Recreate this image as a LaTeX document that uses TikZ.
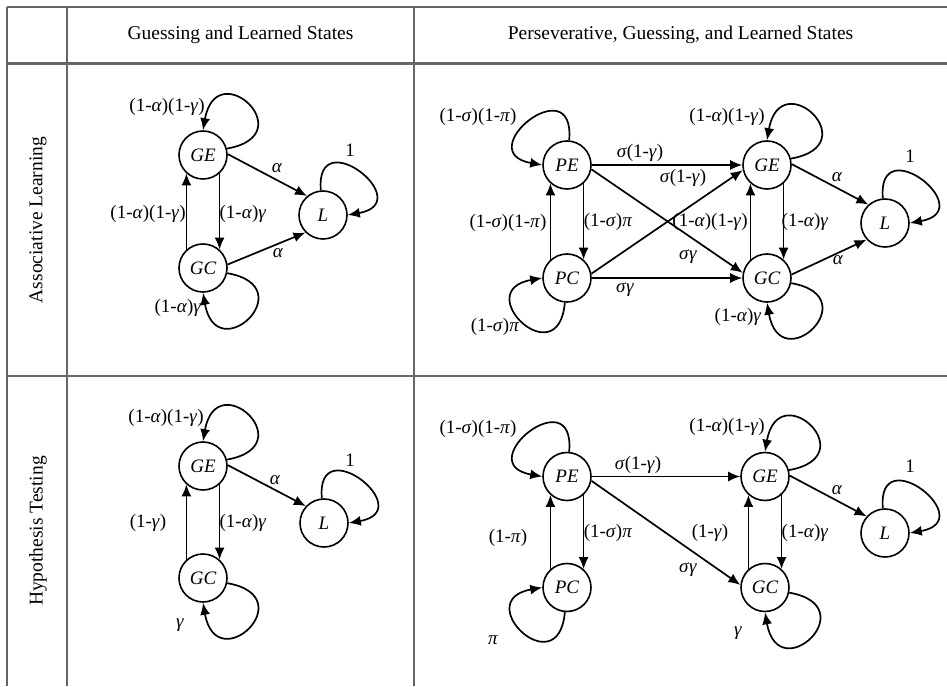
\documentclass[tikz,border=0pt]{standalone}
\usepackage{fontspec}
\setmainfont{Liberation Serif}
\usetikzlibrary{arrows.meta}
% italic Greek symbols used in the transition labels
\newcommand\xa{\textit{α}}
\newcommand\xg{\textit{γ}}
\newcommand\xs{\textit{σ}}
\newcommand\xp{\textit{π}}
\newcommand\txtsize{\fontsize{19}{21}\selectfont}
\newcommand\hdrsize{\fontsize{19.5}{21}\selectfont}
\begin{document}
\begin{tikzpicture}[x=1pt,y=1pt,
  gridline/.style={line width=2.8pt,draw=black!60},
  hdr/.style={font=\hdrsize,inner sep=0pt},
  st/.style={circle,draw,line width=1.6pt,minimum size=48pt,inner sep=0pt,font=\txtsize\itshape},
  arr/.style={line width=1.7pt,-{Latex[length=12pt,width=10pt]}},
  lbl/.style={font=\txtsize,inner sep=0pt}]
\useasboundingbox (0,0) rectangle (947,686);
\fill[white] (0,0) rectangle (947,686);

% table rules
\draw[gridline] (7,679) -- (947,679);
\draw[gridline] (7,622.5) -- (947,622.5);
\draw[gridline] (7,310) -- (947,310);
\draw[gridline] (7,679) -- (7,0);
\draw[gridline] (67,679) -- (67,0);
\draw[gridline] (414,679) -- (414,0);

% headings
\node[hdr] (h1) at (240.5,651) {Guessing and Learned States};
\node[hdr] (h2) at (680.5,651) {Perseverative, Guessing, and Learned States};
\node[hdr,rotate=90] (r1) at (38,466) {Associative Learning};
\node[hdr,rotate=90] (r2) at (38,155) {Hypothesis Testing};

% ---- associative learning, guessing and learned states
\node[st] (aGE) at (203,531) {GE};
\node[st] (aGC) at (203,418) {GC};
\node[st] (aL) at (323,471) {L};
\draw[arr] (aGE.15) .. controls +(10:78) and +(80:78) .. (aGE.90);
\draw[arr] (aGC.-12) .. controls +(-10:78) and +(-80:78) .. (aGC.270);
\draw[arr] (aL.95) .. controls +(95:70) and +(10:72) .. (aL.0);
\draw[arr] (aGE.2) -- (aL.130);
\draw[arr] (aGC.8) -- (aL.225);
\draw[arr] (aGC.132) -- (aGE.228);
\draw[arr] (aGE.312) -- (aGC.48);
\node[lbl] (a1) at (167,579) {(1-\xa)(1-\xg)};
\node[lbl] (a2) at (277,518) {\xa};
\node[lbl] (a3) at (278,433) {\xa};
\node[lbl] (a4) at (148,472) {(1-\xa)(1-\xg)};
\node[lbl] (a5) at (243,472) {(1-\xa)\xg};
\node[lbl] (a6) at (178,378) {(1-\xa)\xg};
\node[lbl] (a7) at (350,536) {1};

% ---- associative learning, perseverative, guessing and learned states
\node[st] (bPE) at (567,521) {PE};
\node[st] (bPC) at (567,408) {PC};
\node[st] (bGE) at (767,521) {GE};
\node[st] (bGC) at (767,408) {GC};
\node[st] (bL) at (885,463) {L};
\draw[arr] (bPE.85) .. controls +(85:74) and +(170:74) .. (bPE.180);
\draw[arr] (bPC.265) .. controls +(265:74) and +(190:74) .. (bPC.180);
\draw[arr] (bGE.15) .. controls +(10:78) and +(80:78) .. (bGE.90);
\draw[arr] (bGC.-12) .. controls +(-10:78) and +(-80:78) .. (bGC.270);
\draw[arr] (bL.95) .. controls +(95:70) and +(10:72) .. (bL.0);
\draw[arr] (bPE) -- (bGE);
\draw[arr] (bPC) -- (bGC);
\draw[arr] (bPE.-10) -- (bGC.168);
\draw[arr] (bPC.10) -- (bGE.192);
\draw[arr] (bPC.132) -- (bPE.228);
\draw[arr] (bPE.312) -- (bPC.48);
\draw[arr] (bGC.132) -- (bGE.228);
\draw[arr] (bGE.312) -- (bGC.48);
\draw[arr] (bGE.2) -- (bL.132);
\draw[arr] (bGC.8) -- (bL.222);
\node[lbl] (b1) at (478,569) {(1-\xs)(1-\xp)};
\node[lbl] (b2) at (508,463) {(1-\xs)(1-\xp)};
\node[lbl] (b3) at (608,464) {(1-\xs)\xp};
\node[lbl] (b4) at (495,359) {(1-\xs)\xp};
\node[lbl] (b5) at (640,533) {\xs(1-\xg)};
\node[lbl] (b6) at (625,396) {\xs\xg};
\node[lbl] (b7) at (683,508) {\xs(1-\xg)};
\node[lbl] (b8) at (688,429) {\xs\xg};
\node[lbl] (b9) at (710,464) {(1-\xa)(1-\xg)};
\node[lbl] (b10) at (805,464) {(1-\xa)\xg};
\node[lbl] (b11) at (727,569) {(1-\xa)(1-\xg)};
\node[lbl] (b12) at (837,509) {\xa};
\node[lbl] (b13) at (838,426) {\xa};
\node[lbl] (b14) at (738,369) {(1-\xa)\xg};
\node[lbl] (b15) at (910,530) {1};

% ---- hypothesis testing, guessing and learned states
\node[st] (dGE) at (203,220) {GE};
\node[st] (dGC) at (203,108) {GC};
\node[st] (dL) at (324,163) {L};
\draw[arr] (dGE.15) .. controls +(10:78) and +(80:78) .. (dGE.90);
\draw[arr] (dGC.-12) .. controls +(-10:78) and +(-80:78) .. (dGC.270);
\draw[arr] (dL.95) .. controls +(95:70) and +(10:72) .. (dL.0);
\draw[arr] (dGE.2) -- (dL.137);
\draw[arr] (dGC.132) -- (dGE.228);
\draw[arr] (dGE.312) -- (dGC.48);
\node[lbl] (d1) at (166,268) {(1-\xa)(1-\xg)};
\node[lbl] (d2) at (275,206) {\xa};
\node[lbl] (d3) at (148,163) {(1-\xg)};
\node[lbl] (d4) at (243,163) {(1-\xa)\xg};
\node[lbl] (d5) at (180,61) {\xg};
\node[lbl] (d6) at (350,226) {1};

% ---- hypothesis testing, perseverative, guessing and learned states
\node[st] (cPE) at (567,209.5) {PE};
\node[st] (cPC) at (567,98.5) {PC};
\node[st] (cGE) at (765,209.5) {GE};
\node[st] (cGC) at (765,98.5) {GC};
\node[st] (cL) at (885,153) {L};
\draw[arr] (cPE.85) .. controls +(85:74) and +(170:74) .. (cPE.180);
\draw[arr] (cPC.265) .. controls +(265:74) and +(190:74) .. (cPC.180);
\draw[arr] (cGE.15) .. controls +(10:78) and +(80:78) .. (cGE.90);
\draw[arr] (cGC.-12) .. controls +(-10:78) and +(-80:78) .. (cGC.270);
\draw[arr] (cL.95) .. controls +(95:70) and +(10:72) .. (cL.0);
\draw[arr] (cPE) -- (cGE);
\draw[arr] (cPE.-10) -- (cGC.174);
\draw[arr] (cPC.132) -- (cPE.228);
\draw[arr] (cPE.312) -- (cPC.48);
\draw[arr] (cGC.132) -- (cGE.228);
\draw[arr] (cGE.312) -- (cGC.48);
\draw[arr] (cGE.2) -- (cL.138);
\node[lbl] (c1) at (478,257) {(1-\xs)(1-\xp)};
\node[lbl] (c2) at (638,221) {\xs(1-\xg)};
\node[lbl] (c3) at (508,148) {(1-\xp)};
\node[lbl] (c4) at (608,153) {(1-\xs)\xp};
\node[lbl] (c5) at (493,46) {\xp};
\node[lbl] (c6) at (727,259) {(1-\xa)(1-\xg)};
\node[lbl] (c7) at (837,196) {\xa};
\node[lbl] (c8) at (710,153) {(1-\xg)};
\node[lbl] (c9) at (805,153) {(1-\xa)\xg};
\node[lbl] (c10) at (688,116) {\xs\xg};
\node[lbl] (c11) at (738,53) {\xg};
\node[lbl] (c12) at (910,220) {1};
\end{tikzpicture}
\end{document}
